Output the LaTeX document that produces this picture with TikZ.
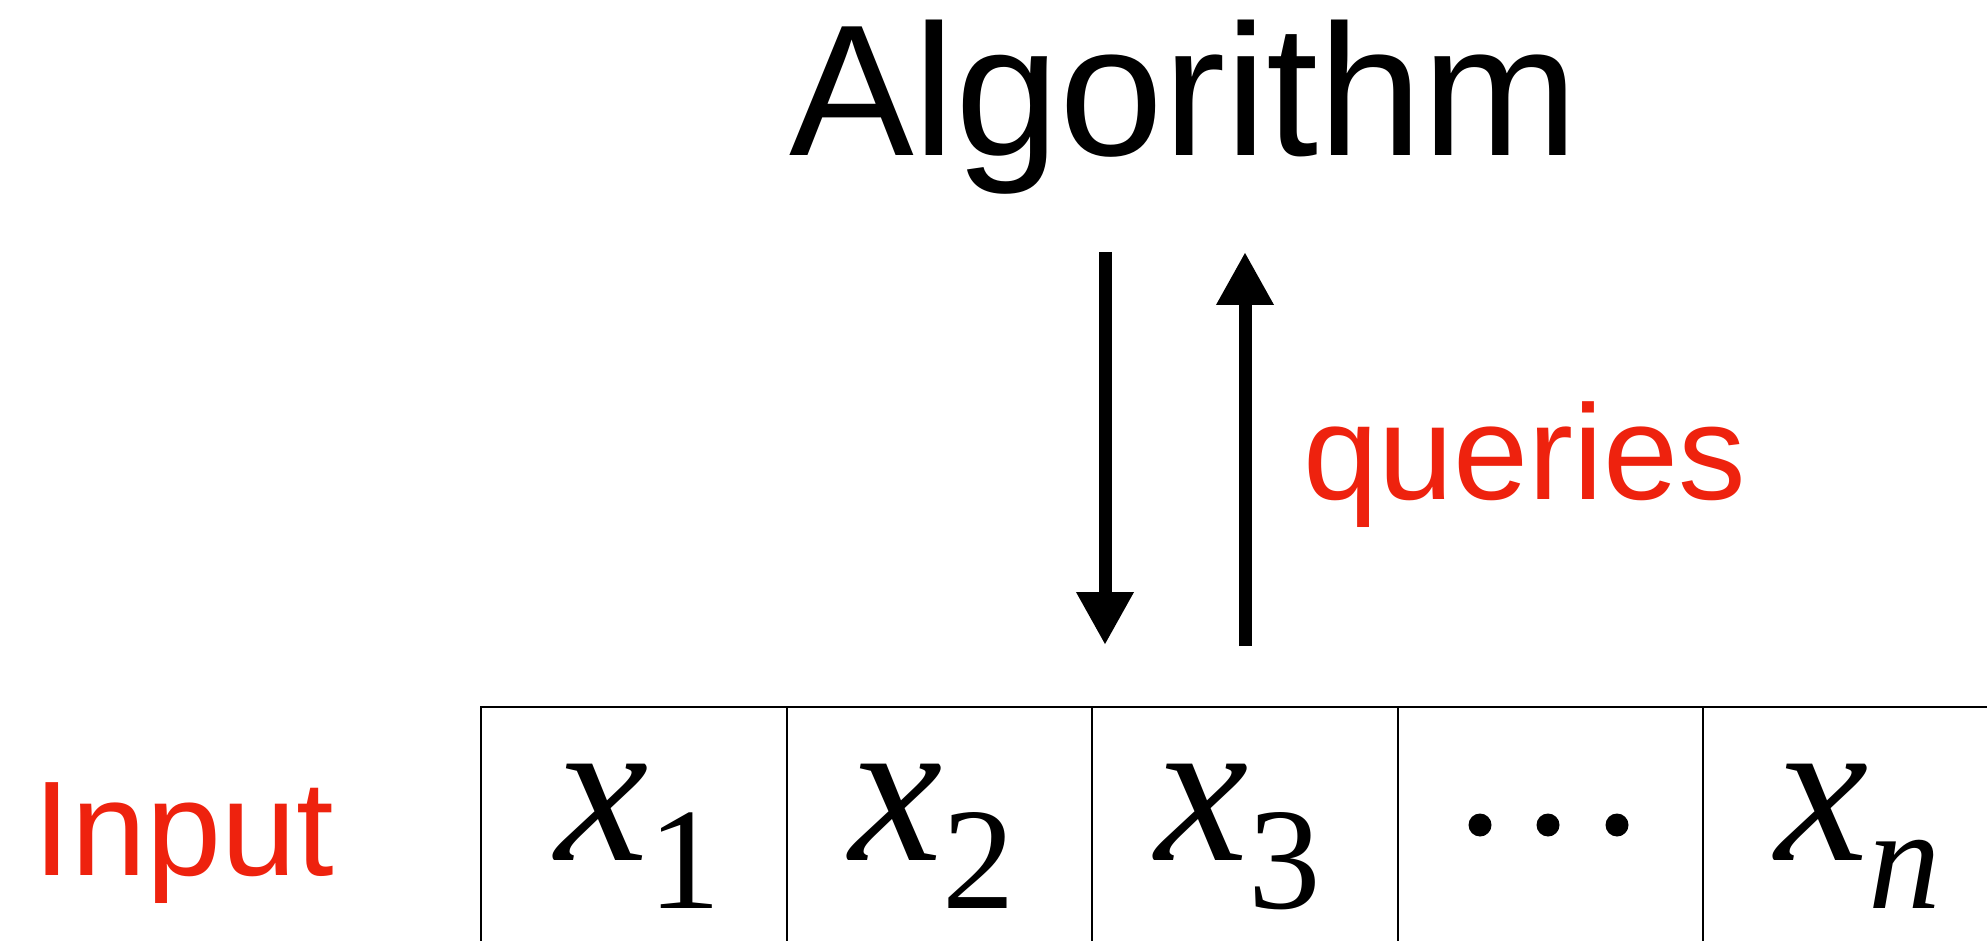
\documentclass[tikz,border=0pt]{standalone}
\usepackage{fontspec}
\setmainfont{Liberation Sans}
\newfontfamily\mathserif{Liberation Serif}
\usetikzlibrary{arrows.meta}
\definecolor{qred}{RGB}{238,34,14}
\newcommand\xsubsc[1]{{\fontsize{210}{210}\selectfont\mathserif\itshape x}\raisebox{-48pt}{\fontsize{145}{145}\selectfont\mathserif #1}}
\tikzset{
  sanslbl/.style={anchor=base west, inner sep=0pt, outer sep=0pt},
  cellbox/.style={draw=black, line width=2.2pt, anchor=north west, minimum width=305.5pt, minimum height=320pt, inner sep=0pt},
  cellval/.style={anchor=base, inner sep=0pt},
  dotc/.style={circle, fill=black, minimum size=23pt, inner sep=0pt},
  bigarrow/.style={line width=13pt, -{Triangle[length=53pt,width=54pt]}}
}
\begin{document}
\begin{tikzpicture}[x=1pt,y=-1pt]
\useasboundingbox (0,0) rectangle (1987,941);
\clip (0,0) rectangle (1987,941);
% title
\node[sanslbl, font=\fontsize{187}{187}\selectfont] (alg) at (789,156) {Algorithm};
% arrows
\coordinate (dTop) at (1105,252);
\coordinate (dBot) at (1105,645);
\coordinate (uBot) at (1245,646);
\coordinate (uTop) at (1245,252);
\draw[bigarrow] (dTop) -- (dBot);
\draw[bigarrow] (uBot) -- (uTop);
\node[sanslbl, text=qred, font=\fontsize{135}{135}\selectfont] (qry) at (1303,499) {queries};
% input label
\node[sanslbl, text=qred, font=\fontsize{135}{135}\selectfont] (inp) at (34,875) {Input};
% table cells
\node[cellbox] (c1) at (480,706) {};
\node[cellbox] (c2) at (785.5,706) {};
\node[cellbox] (c3) at (1091,706) {};
\node[cellbox] (c4) at (1396.5,706) {};
\node[cellbox] (c5) at (1702,706) {};
% cell contents
\node[cellval] (v1) at (638,860) {\xsubsc{1}};
\node[cellval] (v2) at (932,860) {\xsubsc{2}};
\node[cellval] (v3) at (1238,860) {\xsubsc{3}};
\node[dotc] (d1) at (1480,825) {};
\node[dotc] (d2) at (1548,825) {};
\node[dotc] (d3) at (1617,825) {};
\node[cellval] (v5) at (1858,860) {\xsubsc{\itshape n}};
\end{tikzpicture}
\end{document}
